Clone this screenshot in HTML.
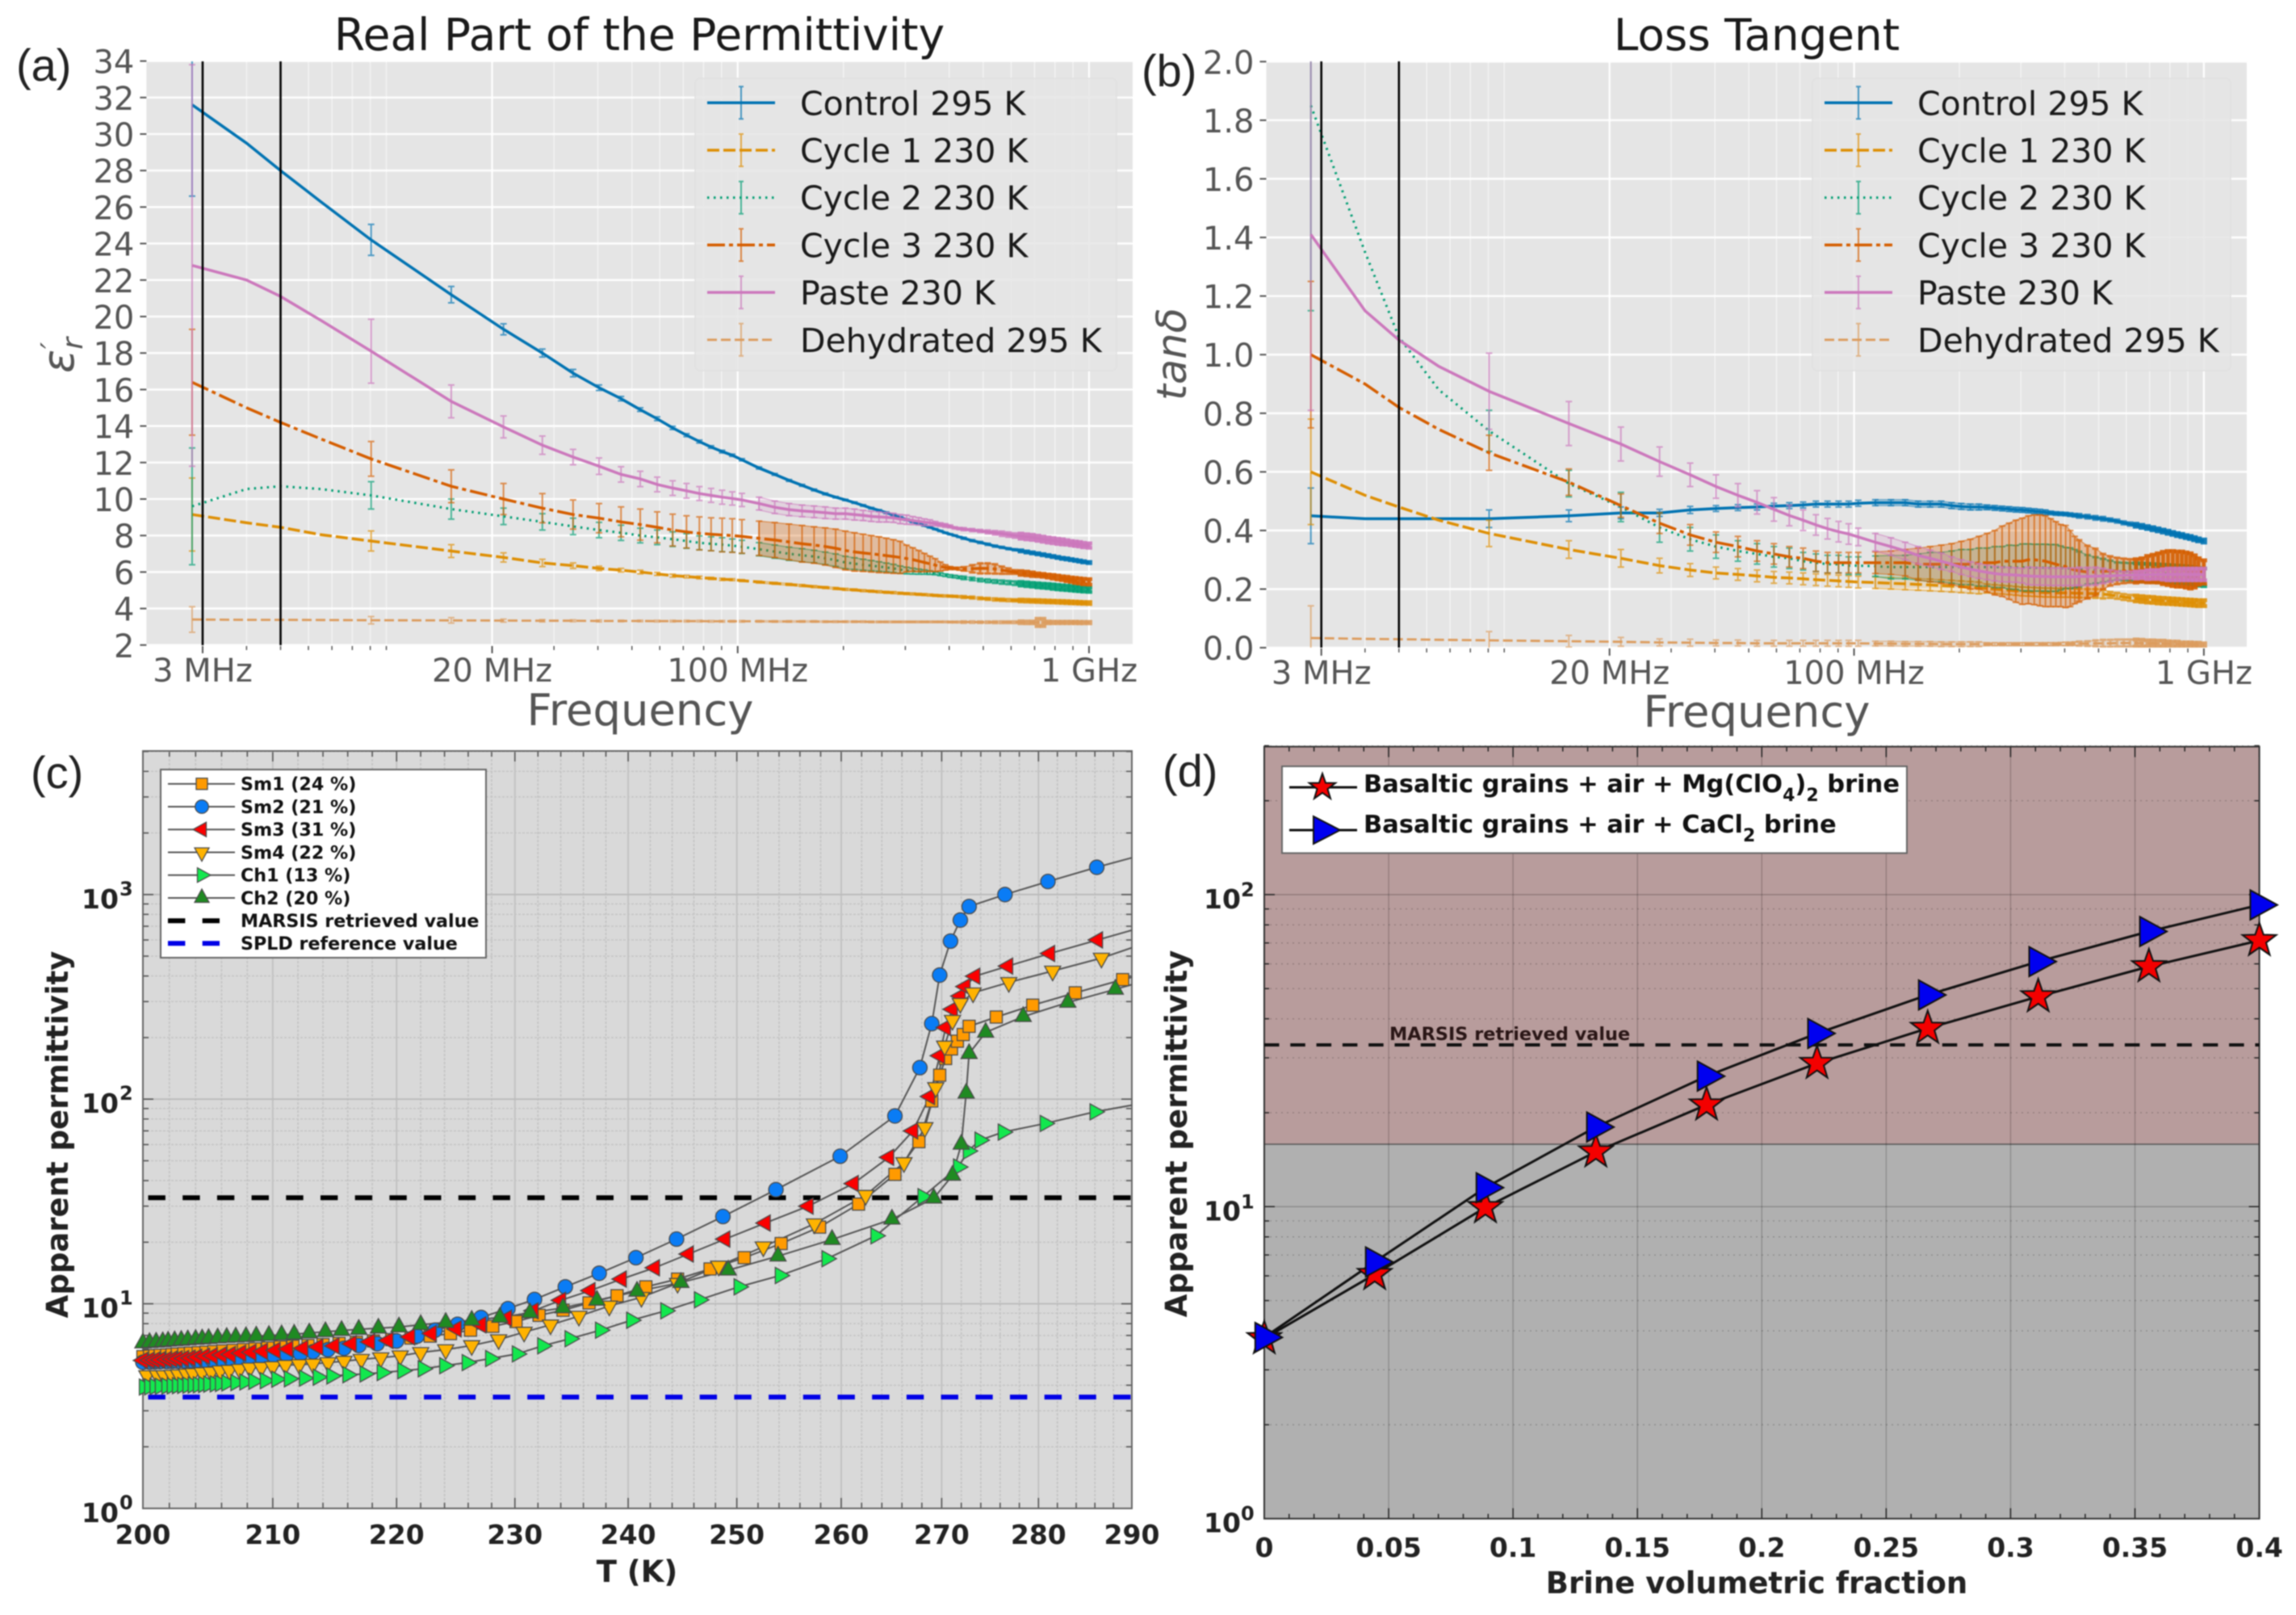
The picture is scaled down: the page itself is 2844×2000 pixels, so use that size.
<!DOCTYPE html>
<html lang="en">
<head>
<meta charset="utf-8">
<title>Permittivity and loss tangent charts</title>
<style>
html,body{margin:0;padding:0;background:#fff;width:2844px;height:2000px;overflow:hidden}
svg{display:block;filter:blur(0.7px);font-family:"DejaVu Sans","Liberation Sans",sans-serif}
.ax{fill:#555}
.b{font-weight:700;fill:#222}
</style>
</head>
<body>
<svg id="figure" xmlns="http://www.w3.org/2000/svg" width="2844" height="2000" viewBox="0 0 2844 2000">
<defs>
<clipPath id="clip-a"><rect x="181.4" y="76" width="1221.6" height="723"/></clipPath>
<clipPath id="clip-b"><rect x="1568.5" y="76" width="1214.5" height="726"/></clipPath>
<clipPath id="clip-c"><rect x="177" y="930" width="1225" height="938"/></clipPath>
</defs>
<g id="static">
<text x="792" y="62" font-size="55" text-anchor="middle" fill="#1a1a1a">Real Part of the Permittivity</text>
<text x="2176" y="62" font-size="54.7" text-anchor="middle" fill="#1a1a1a">Loss Tangent</text>
<text x="20" y="100" font-size="56" fill="#222" style="font-family:'Liberation Sans',sans-serif">(a)</text>
<text x="1414" y="107" font-size="56" fill="#222" style="font-family:'Liberation Sans',sans-serif">(b)</text>
<text x="38" y="976" font-size="56" fill="#222" style="font-family:'Liberation Sans',sans-serif">(c)</text>
<text x="1440" y="974" font-size="56" fill="#222" style="font-family:'Liberation Sans',sans-serif">(d)</text>
<text class="ax" x="793" y="898" font-size="54.4" text-anchor="middle">Frequency</text>
<text class="ax" x="2176" y="900" font-size="54.4" text-anchor="middle">Frequency</text>
<text class="ax" transform="translate(91,462) rotate(-90)" font-size="54" font-style="italic">ε<tspan dy="11" font-size="36">r</tspan><tspan dx="-14" dy="-26" font-size="36">′</tspan></text>
<text class="ax" transform="translate(1469,496) rotate(-90)" font-size="51" font-style="italic">tanδ</text>
<text class="b" x="789" y="1959" font-size="37" text-anchor="middle">T (K)</text>
<text class="b" transform="translate(84,1405) rotate(-90)" font-size="37" text-anchor="middle">Apparent permittivity</text>
<text class="b" x="2176" y="1973" font-size="37" text-anchor="middle">Brine volumetric fraction</text>
<text class="b" transform="translate(1470,1404) rotate(-90)" font-size="37" text-anchor="middle">Apparent permittivity</text>
</g>
</svg>
<script>
// ---------- Shared frequency grid (MHz) for panels a and b ----------
const freqMHz = [2.8,4,5,6.5,9.05,15.3,21.55,27.8,34,40.3,
46.55,52.8,59,65.3,71.5,77.8,84,90.3,96.5,102.8,
115,127.5,140,152.5,165,177.5,190,202.5,215,227.5,
240,252.5,265,277.5,290,302.5,315,327.5,340,352.5,
365,377.5,390,402.5,415,427.5,440,465,490,515,
540,565,590,615,640,665,690,715,740,765,
790,815,840,865,890,915,940,965,1000];

// ---------- Panel a: real permittivity ----------
const aControl = [31.6,29.5,28,26.3,24.2,21.2,19.3,18,16.9,16.1,
15.5,14.9,14.4,13.9,13.5,13.15,12.85,12.6,12.4,12.15,
11.7,11.35,11.02,10.75,10.5,10.28,10.1,9.95,9.8,9.65,
9.5,9.38,9.25,9.12,9,8.87,8.75,8.65,8.55,8.45,
8.35,8.25,8.15,8.07,8,7.92,7.85,7.72,7.62,7.52,
7.42,7.35,7.28,7.22,7.16,7.1,7.05,7,6.95,6.9,
6.85,6.8,6.75,6.72,6.68,6.64,6.6,6.56,6.52];
const aControlErr = [5,0,0,0,.85,.45,.3,.22,.2,.15,
.12,.1,.1,.09,.08,.08,.07,.07,.06,.06,
.06,.05,.05,.05,.05,.05,.04,.04,.04,.04,
.04,.04,.04,.04,.04,.04,.04,.04,.04,.04,
.03,.03,.03,.03,.03,.03,.03,.03,.03,.03,
.03,.03,.03,.03,.03,.03,.03,.03,.03,.03,
.03,.03,.03,.03,.03,.03,.03,.03,.03];
const aCycle1 = [9.15,8.7,8.45,8.05,7.7,7.15,6.8,6.5,6.35,6.2,
6.1,6,5.9,5.8,5.75,5.7,5.65,5.6,5.58,5.53,
5.45,5.38,5.32,5.26,5.2,5.15,5.1,5.05,5.02,4.98,
4.95,4.92,4.89,4.87,4.84,4.82,4.8,4.78,4.76,4.74,
4.72,4.7,4.69,4.68,4.67,4.65,4.63,4.6,4.56,4.53,
4.5,4.48,4.46,4.45,4.44,4.43,4.42,4.41,4.4,4.39,
4.38,4.37,4.36,4.35,4.34,4.33,4.32,4.31,4.3];
const aCycle1Err = [2,0,0,0,.55,.35,.25,.2,.15,.12,
.1,.1,.08,.08,.07,.07,.06,.06,.05,.05,
.05,.05,.05,.05,.05,.05,.05,.05,.05,.05,
.05,.05,.05,.05,.05,.05,.05,.05,.05,.05,
.05,.05,.05,.05,.05,.05,.05,.05,.05,.05,
.06,.06,.06,.06,.05,.05,.05,.05,.05,.05,
.05,.05,.05,.05,.05,.05,.05,.05,.05];
const aCycle2 = [9.6,10.55,10.7,10.55,10.2,9.45,9.05,8.75,8.5,8.3,
8.15,8,7.9,7.8,7.7,7.6,7.55,7.5,7.45,7.38,
7.25,7.12,7,6.92,6.85,6.75,6.65,6.52,6.46,6.4,
6.35,6.3,6.25,6.2,6.13,6.08,6.05,6.02,6,5.97,
5.93,5.88,5.83,5.78,5.75,5.71,5.68,5.62,5.56,5.52,
5.48,5.45,5.42,5.39,5.36,5.33,5.3,5.27,5.25,5.23,
5.2,5.17,5.15,5.13,5.11,5.09,5.07,5.05,5.03];
const aCycle2Err = [3.2,0,0,0,.75,.55,.45,.45,.45,.42,
.42,.4,.4,.4,.4,.38,.38,.38,.36,.36,
.36,.36,.36,.36,.34,.34,.34,.34,.32,.3,
.28,.26,.24,.22,.2,.18,.16,.14,.12,.1,
.08,.08,.07,.07,.07,.07,.07,.07,.07,.08,
.08,.09,.09,.1,.1,.1,.1,.11,.11,.11,
.12,.12,.12,.12,.12,.12,.12,.12,.12];
const aCycle3 = [16.4,15,14.2,13.3,12.2,10.7,10,9.5,9.15,8.95,
8.75,8.6,8.45,8.3,8.2,8.12,8.07,8.03,8,7.95,
7.85,7.75,7.65,7.55,7.48,7.4,7.3,7.18,7.1,7.05,
7,6.95,6.9,6.85,6.8,6.74,6.68,6.6,6.52,6.45,
6.38,6.3,6.25,6.22,6.2,6.18,6.17,6.18,6.2,6.2,
6.17,6.1,6.05,6,5.95,5.92,5.88,5.85,5.82,5.78,
5.74,5.7,5.66,5.62,5.58,5.54,5.51,5.48,5.46];
const aCycle3Err = [2.9,0,0,0,.95,.9,.85,.8,.8,.8,
.82,.85,.85,.87,.88,.9,.9,.92,.92,.92,
.94,.96,.98,1,1,1.02,1.05,1.06,1.05,1.02,
1,.98,.95,.92,.88,.73,.65,.58,.5,.42,
.35,.25,.15,.08,.06,.08,.1,.2,.28,.28,
.26,.2,.15,.1,.1,.1,.1,.08,.08,.08,
.1,.1,.1,.12,.12,.14,.14,.15,.15];
const aPaste = [22.8,22,21.1,19.8,18.1,15.35,13.95,12.95,12.3,11.8,
11.35,11.1,10.8,10.6,10.45,10.3,10.2,10.1,10.03,9.95,
9.75,9.55,9.42,9.35,9.3,9.25,9.2,9.2,9.15,9.1,
9.05,9.02,9,8.97,8.9,8.87,8.82,8.78,8.73,8.7,
8.65,8.6,8.55,8.5,8.42,8.38,8.35,8.3,8.25,8.2,
8.15,8.1,8.05,8,7.97,7.93,7.9,7.85,7.8,7.75,
7.72,7.68,7.65,7.62,7.58,7.55,7.52,7.48,7.45];
const aPasteErr = [11,0,0,0,1.75,.9,.6,.5,.42,.45,
.42,.42,.4,.4,.4,.38,.38,.38,.36,.36,
.35,.34,.33,.32,.32,.32,.3,.3,.3,.28,
.28,.28,.26,.25,.25,.25,.22,.2,.18,.16,
.12,.1,.1,.08,.06,.06,.06,.06,.06,.08,
.1,.12,.12,.12,.14,.14,.14,.14,.14,.14,
.14,.14,.14,.12,.12,.12,.12,.12,.12];
const aDehydrated = [3.4,3.38,3.38,3.37,3.36,3.35,3.34,3.33,3.33,3.32,
3.32,3.32,3.31,3.31,3.31,3.31,3.3,3.3,3.3,3.3,
3.3,3.29,3.29,3.29,3.29,3.28,3.28,3.28,3.28,3.28,
3.27,3.27,3.27,3.27,3.27,3.27,3.27,3.27,3.27,3.27,
3.27,3.27,3.27,3.26,3.26,3.26,3.26,3.26,3.25,3.25,
3.25,3.25,3.25,3.25,3.25,3.24,3.24,3.24,3.24,3.24,
3.24,3.24,3.24,3.24,3.24,3.24,3.23,3.23,3.23];
const aDehydratedErr = [.7,0,0,0,.2,.15,.08,.06,.05,.05,
.04,.04,.04,.04,.04,.04,.04,.04,.04,.04,
.04,.04,.04,.04,.04,.04,.04,.04,.04,.04,
.04,.04,.04,.04,.04,.04,.04,.04,.04,.04,
.04,.04,.04,.04,.04,.04,.04,.04,.04,.04,
.05,.05,.05,.05,.05,.05,.05,.2,.2,.05,
.04,.04,.04,.04,.04,.04,.04,.04,.04];
const aYTicks = [2,4,6,8,10,12,14,16,18,20,22,24,26,28,30,32,34];

// ---------- Panel b: loss tangent ----------
const bControl = [.45,.44,.44,.44,.44,.45,.46,.46,.47,.475,
.478,.48,.483,.485,.487,.49,.49,.49,.49,.493,
.495,.495,.495,.49,.49,.49,.485,.482,.48,.48,
.479,.477,.475,.473,.471,.47,.468,.466,.464,.462,
.46,.458,.457,.456,.454,.452,.45,.447,.443,.44,
.436,.432,.426,.422,.418,.414,.41,.406,.402,.398,
.394,.39,.386,.383,.379,.376,.372,.368,.364];
const bControlErr = [.095,0,0,0,.03,.02,.02,.012,.012,.01,
.01,.01,.01,.01,.01,.01,.01,.01,.01,.01,
.01,.01,.01,.01,.01,.01,.01,.01,.01,.01,
.008,.008,.008,.008,.008,.008,.008,.008,.008,.008,
.006,.006,.006,.006,.006,.006,.006,.006,.006,.006,
.005,.005,.005,.005,.005,.005,.005,.005,.005,.005,
.005,.005,.005,.005,.005,.005,.005,.005,.005];
const bCycle1 = [.6,.52,.48,.435,.39,.335,.305,.28,.265,.255,
.25,.245,.24,.238,.235,.232,.23,.228,.226,.224,
.222,.22,.218,.216,.214,.212,.21,.208,.206,.204,
.202,.2,.198,.196,.194,.192,.191,.19,.189,.188,
.188,.187,.187,.187,.187,.186,.186,.185,.185,.183,
.18,.177,.173,.17,.168,.166,.164,.163,.161,.16,
.159,.158,.157,.156,.155,.154,.153,.152,.152];
const bCycle1Err = [.18,0,0,0,.045,.03,.03,.025,.022,.02,
.02,.02,.02,.02,.02,.02,.02,.02,.02,.02,
.02,.02,.02,.02,.02,.02,.02,.02,.02,.02,
.015,.015,.015,.015,.015,.015,.015,.015,.015,.015,
.015,.015,.015,.015,.015,.015,.015,.015,.015,.015,
.01,.01,.01,.01,.01,.01,.01,.01,.01,.01,
.01,.01,.01,.01,.01,.01,.01,.01,.01];
const bCycle2 = [1.85,1.35,1.06,.88,.74,.56,.48,.41,.37,.345,
.33,.32,.31,.305,.295,.29,.285,.285,.28,.28,
.278,.275,.275,.275,.275,.275,.275,.275,.275,.275,
.275,.275,.275,.275,.274,.274,.274,.273,.273,.273,
.272,.272,.272,.272,.271,.27,.268,.266,.264,.263,
.262,.261,.26,.259,.258,.257,.256,.255,.254,.253,
.252,.251,.25,.249,.248,.246,.244,.242,.24];
const bCycle2Err = [.7,0,0,0,.07,.045,.05,.05,.04,.04,
.035,.035,.035,.035,.03,.03,.03,.03,.03,.03,
.035,.04,.04,.045,.05,.05,.055,.06,.06,.065,
.065,.07,.07,.075,.075,.08,.08,.08,.08,.08,
.08,.08,.075,.07,.07,.065,.06,.05,.045,.04,
.035,.03,.03,.03,.03,.03,.03,.03,.03,.03,
.03,.03,.03,.03,.03,.03,.03,.03,.03];
const bCycle3 = [1,.9,.82,.745,.665,.565,.485,.425,.385,.36,
.345,.33,.32,.31,.305,.295,.29,.29,.29,.29,
.29,.29,.29,.285,.285,.285,.285,.285,.285,.29,
.29,.29,.295,.295,.295,.295,.3,.3,.298,.295,
.29,.285,.28,.277,.27,.265,.262,.258,.258,.26,
.262,.262,.262,.262,.262,.265,.268,.27,.272,.272,
.272,.27,.268,.268,.265,.262,.26,.26,.258];
const bCycle3Err = [.25,0,0,0,.06,.045,.04,.035,.035,.035,
.035,.035,.035,.035,.035,.035,.035,.035,.035,.035,
.037,.04,.045,.055,.06,.065,.07,.078,.085,.09,
.1,.11,.12,.13,.14,.147,.15,.153,.155,.155,
.15,.145,.14,.14,.13,.115,.105,.09,.08,.06,
.05,.045,.042,.04,.04,.04,.045,.047,.05,.055,
.058,.06,.06,.06,.06,.06,.055,.045,.04];
const bPaste = [1.41,1.15,1.05,.96,.875,.765,.695,.635,.59,.55,
.52,.496,.472,.451,.435,.419,.406,.396,.388,.378,
.36,.345,.33,.315,.305,.295,.285,.275,.268,.262,
.257,.253,.25,.249,.248,.246,.245,.244,.243,.243,
.242,.242,.242,.242,.242,.242,.243,.243,.244,.245,
.245,.246,.247,.248,.248,.249,.249,.25,.25,.25,
.25,.25,.25,.25,.25,.25,.25,.25,.25];
const bPasteErr = [.6,0,0,0,.13,.075,.058,.05,.04,.04,
.04,.04,.04,.035,.035,.035,.035,.035,.035,.03,
.03,.03,.03,.03,.028,.028,.025,.025,.025,.025,
.025,.025,.025,.025,.025,.025,.03,.03,.03,.03,
.03,.03,.03,.03,.03,.03,.03,.03,.03,.025,
.02,.015,.012,.012,.012,.012,.015,.015,.015,.018,
.02,.02,.02,.02,.02,.02,.02,.02,.02];
const bDehydrated = [.033,.03,.029,.027,.025,.022,.02,.018,.017,.016,
.016,.015,.015,.015,.015,.015,.015,.015,.015,.015,
.014,.014,.013,.013,.013,.012,.012,.012,.012,.012,
.012,.012,.012,.012,.012,.012,.012,.012,.012,.012,
.012,.012,.013,.013,.013,.014,.014,.014,.015,.015,
.015,.016,.016,.016,.016,.015,.015,.015,.014,.014,
.014,.013,.013,.012,.012,.012,.011,.011,.01];
const bDehydratedErr = [.11,0,0,0,.03,.02,.015,.012,.012,.01,
.01,.01,.01,.01,.01,.01,.01,.01,.01,.01,
.008,.008,.008,.008,.008,.008,.008,.008,.008,.008,
.005,.005,.005,.005,.005,.005,.005,.005,.005,.005,
.005,.005,.005,.006,.006,.006,.007,.008,.01,.012,
.012,.012,.012,.012,.012,.012,.01,.01,.01,.01,
.008,.008,.008,.006,.006,.006,.006,.006,.005];
const bYTicks = [0,.2,.4,.6,.8,1,1.2,1.4,1.6,1.8,2];

const freqTickValues = [3,20,100,1000];
const freqTickLabels = ['3 MHz','20 MHz','100 MHz','1 GHz'];
const freqMinorValues = [4,5,6,7,8,9,10,30,40,50,60,70,80,90,200,300,400,500,600,700,800,900];
const bandLimitMHz = [3,5];
const seriesLabels = ['Control 295 K','Cycle 1 230 K','Cycle 2 230 K','Cycle 3 230 K','Paste 230 K','Dehydrated 295 K'];

// ---------- Panel c: apparent permittivity vs temperature ----------
const sm1T = [200,200.5,200.9,201.3,201.8,202.2,202.6,203.1,203.6,204.2,204.8,205.4,206.1,206.9,207.7,208.6,209.6,210.6,211.6,212.8,214,215.3,216.7,218.1,219.6,221.2,222.8,224.5,226.2,228.1,230.1,232.1,234.2,236.5,239,241.6,244.5,247.5,250.7,254.2,257.9,261.7,265.3,267.7,269,269.8,270.4,271,271.6,272.2,272.8,275.6,279.4,283.9,289,292];
const sm1V = [5.52,5.55,5.58,5.6,5.62,5.65,5.68,5.71,5.74,5.77,5.8,5.84,5.88,5.92,5.97,6.02,6.08,6.15,6.2,6.25,6.32,6.4,6.48,6.58,6.68,6.8,6.95,7.15,7.43,7.76,8.19,8.78,9.3,10.1,10.95,12.1,13.2,14.8,16.8,19.7,23.7,30.7,42.9,62,98,131,158,176,192,207,227,252,288,331,384,415];
const sm2T = [200,200.5,200.9,201.3,201.8,202.2,202.6,203.1,203.6,204.1,204.7,205.3,206,206.7,207.4,208.2,209.1,210.1,211.1,212.2,213.2,214.4,215.7,216.9,218.4,220,221.7,223.2,225.1,227.1,229.4,231.7,234.4,237.4,240.7,244.4,248.7,253.7,259.9,265.3,267.8,269,269.8,270.9,271.9,272.8,276.5,281,286.2,292];
const sm2V = [5.18,5.19,5.2,5.21,5.22,5.23,5.24,5.26,5.27,5.29,5.31,5.33,5.35,5.38,5.41,5.44,5.48,5.57,5.65,5.7,5.83,5.97,6.06,6.25,6.38,6.58,6.95,7.43,7.94,8.57,9.47,10.5,12.1,14.1,16.8,20.7,26.7,36.1,52.6,82.8,142.6,234,404,592,750,874,1000,1158,1359,1600];
const sm3T = [200,200.5,200.9,201.3,201.8,202.2,202.6,203.1,203.6,204.1,204.7,205.3,206,206.7,207.5,208.3,209.2,210.2,211.2,212.4,213.6,214.9,216.3,217.8,219.3,221.1,222.9,225,227.1,229.3,231.6,234,236.6,239.4,242.4,245.5,248.9,252.7,256.8,261.2,264.7,267.1,268.8,269.8,270.4,271.1,271.9,272.4,273.4,276.8,281.2,286.3,292];
const sm3V = [5.29,5.3,5.31,5.32,5.34,5.36,5.38,5.4,5.43,5.48,5.54,5.57,5.62,5.65,5.74,5.79,5.86,5.92,6.01,6.06,6.15,6.23,6.38,6.52,6.62,6.89,7.16,7.54,7.89,8.51,9.24,10.4,11.6,13.2,15,17.5,20.7,24.8,30,38.7,52,70,103,163,224,275,319,355,399,447,515,600,710];
const sm4T = [200.3,201.1,201.6,202.2,202.7,203.3,203.8,204.5,205.2,205.9,206.6,207.4,208.2,209.1,210,211,212.1,213.2,214.4,215.7,217.1,218.7,220.3,222,224.1,226.3,228.6,230.8,233.1,235.6,238.3,241.2,244.5,248.3,252.5,257.4,262.4,266.2,268.3,269.4,270.3,271.1,271.9,273.2,276.9,281.5,286.7,292];
const sm4V = [4.46,4.46,4.46,4.48,4.5,4.54,4.57,4.61,4.64,4.71,4.74,4.79,4.86,4.89,4.93,5.01,5.05,5.08,5.16,5.24,5.35,5.45,5.57,5.78,5.97,6.25,6.68,7.27,7.89,8.7,9.76,10.75,12.6,15.3,19,24.6,33.9,49,72.7,114,182,243,294,331,372,423,489,590];
const ch1T = [200.1,200.5,200.9,201.3,201.8,202.2,202.6,203,203.4,203.8,204.2,204.6,205,205.5,205.9,206.4,207.1,207.8,208.5,209.4,210.3,211.3,212.5,213.6,214.7,216,217.4,218.8,220.5,222.2,224,225.9,227.9,230.2,232.4,234.8,237.5,240.3,243.4,246.5,250.2,254.1,258.6,263.4,268.1,271.7,272.7,273.9,276.3,280.7,286,292];
const ch1V = [3.92,3.93,3.94,3.95,3.96,3.97,3.98,3.99,4,4.01,4.02,4.03,4.05,4.06,4.08,4.1,4.12,4.15,4.18,4.21,4.28,4.3,4.33,4.38,4.44,4.5,4.54,4.61,4.71,4.81,4.98,5.16,5.4,5.69,6.23,6.75,7.43,8.31,9.24,10.46,12.1,13.75,16.6,21.5,33.4,46.6,55.8,63,69,76.1,86.7,97];
const ch2T = [200,200.5,201,201.5,201.9,202.4,202.9,203.4,204,204.5,205,205.7,206.4,207.1,207.9,208.7,209.7,210.7,211.7,212.9,214.2,215.5,216.9,218.5,220.2,222,224.1,226.3,228.7,231.3,234.2,237.2,240.8,244.8,249.2,253.9,259.1,265,269.2,271.1,272,272.5,272.8,274.5,278.4,283.1,288.2,292];
const ch2V = [6.43,6.46,6.49,6.52,6.56,6.59,6.62,6.66,6.7,6.73,6.76,6.8,6.84,6.87,6.91,6.95,7,7.05,7.1,7.2,7.3,7.4,7.5,7.6,7.7,7.9,8.1,8.3,8.58,9.03,9.55,10.4,11.5,12.7,14.6,17.1,20.6,25.9,32.8,42.4,60.2,107,167,212,253,297,344,385];
const cXTicks = [200,210,220,230,240,250,260,270,280,290];
const cYDecades = [0,1,2,3];
const marsisValue = [33];
const spldValue = [3.5];

// ---------- Panel d: mixing model ----------
const dFraction = [0,.0444,.0889,.1333,.1778,.2222,.2667,.3111,.3556,.4];
const dMgClO4 = [3.78,6.07,9.94,15,21.2,28.8,37.3,47.1,58.8,71.3];
const dCaCl2 = [3.81,6.65,11.5,18,26.2,35.9,47.7,61,76.2,92.7];
const dXTicks = [0,.05,.1,.15,.2,.25,.3,.35,.4];
const dXTickLabels = ['0','0.05','0.1','0.15','0.2','0.25','0.3','0.35','0.4'];
const dYDecades = [0,1,2];
const dShadeBoundary = [15.85];

// ---------- Axis functions ----------
const xA = f => 251 + 435.2 * Math.log10(f / 3);
const yA = v => 798.8 - (v - 2) * 22.6;
const xB = f => 1636.7 + 433.3 * Math.log10(f / 3);
const yB = v => 802.1 - v * 362.9;
const xC = t => 177 + 1225 * Math.log(t / 200) / Math.log(1.45);
const yC = v => 1868 - 253.4 * Math.log10(v);
const xD = v => 1566 + v / 0.4 * 1232.6;
const yD = v => 1880.7 - 386.4 * Math.log10(v);

const NS = 'http://www.w3.org/2000/svg';
const figure = document.getElementById('figure');
function mk(tag, parent, attrs, txt) {
  const n = document.createElementNS(NS, tag);
  for (const k in attrs) n.setAttribute(k, attrs[k]);
  if (txt !== undefined) n.textContent = txt;
  parent.appendChild(n);
  return n;
}
function grp(parent) { return mk('g', parent, {}); }
function polyD(xs, ys) {
  const parts = [];
  for (let i = 0; i < Math.min(xs.length, ys.length); i++) parts.push((i ? 'L' : 'M') + xs[i].toFixed(1) + ' ' + ys[i].toFixed(1));
  return parts.join('');
}
function marker(parent, type, cx, cy, fill, stroke, sw, h, b) {
  let pts;
  if (type === 'circle') return mk('ellipse', parent, {cx: cx, cy: cy, rx: h / 2, ry: h / 2, fill: fill, stroke: stroke, 'stroke-width': sw});
  if (type === 'square') return mk('rect', parent, {x: cx - h / 2, y: cy - h / 2, width: h, height: h, fill: fill, stroke: stroke, 'stroke-width': sw});
  if (type === 'star') {
    pts = [];
    for (let i = 0; i < 10; i++) {
      const r = i % 2 ? h * 0.4 : h;
      const a = -Math.PI / 2 + i * Math.PI / 5;
      pts.push((cx + r * Math.cos(a)).toFixed(1) + ',' + (cy + r * Math.sin(a)).toFixed(1));
    }
    return mk('polygon', parent, {points: pts.join(' '), fill: fill, stroke: stroke, 'stroke-width': sw, 'stroke-linejoin': 'miter'});
  }
  if (type === 'right') pts = [[cx - h / 3, cy - b / 2], [cx + 2 * h / 3, cy], [cx - h / 3, cy + b / 2]];
  if (type === 'left') pts = [[cx + h / 3, cy - b / 2], [cx - 2 * h / 3, cy], [cx + h / 3, cy + b / 2]];
  if (type === 'up') pts = [[cx - b / 2, cy + h / 3], [cx, cy - 2 * h / 3], [cx + b / 2, cy + h / 3]];
  if (type === 'down') pts = [[cx - b / 2, cy - h / 3], [cx, cy + 2 * h / 3], [cx + b / 2, cy - h / 3]];
  return mk('polygon', parent, {points: pts.map(p => p[0].toFixed(1) + ',' + p[1].toFixed(1)).join(' '), fill: fill, stroke: stroke, 'stroke-width': sw});
}

// ---------- Panels a and b ----------
const lineStyles = [
  {color: '#0173b2', dash: 'none', w: 3.5, key: 'control'},
  {color: '#de8f05', dash: '15 5', w: 3.5, key: 'cycle-1'},
  {color: '#029e73', dash: '2.5 5.5', w: 3, key: 'cycle-2'},
  {color: '#d55e00', dash: '22 5 5 5', w: 3.5, key: 'cycle-3'},
  {color: '#cc78bc', dash: 'none', w: 3.5, key: 'paste'},
  {color: '#dc9c5e', dash: '12 5', w: 2.8, key: 'dehydrated'}
];
function drawFreqPanel(p) {
  const g = grp(figure);
  
  
  const bg = mk('rect', g, {x: p.L, y: p.T, width: p.R - p.L, height: p.B - p.T, fill: '#e5e5e5'});
  
  
  p.yTicks.forEach(v => {
    const gl = mk('line', g, {x1: p.L, x2: p.R, y1: p.y(v), y2: p.y(v), stroke: '#fff', 'stroke-width': 2.6, 'stroke-opacity': 0.9});
    
    
    const tk = mk('line', g, {x1: p.L - 8, x2: p.L, y1: p.y(v), y2: p.y(v), stroke: '#555', 'stroke-width': 2});
    
    
    const lab = mk('text', g, {x: p.L - 15, y: p.y(v) + 15, 'font-size': 40, 'text-anchor': 'end', fill: '#555'}, p.fmt(v));
    
    
  });
  freqMinorValues.forEach(f => {
    const gl = mk('line', g, {x1: p.x(f), x2: p.x(f), y1: p.T, y2: p.B, stroke: '#fff', 'stroke-width': 1.3, 'stroke-opacity': 0.6});
    
    
    const tk = mk('line', g, {x1: p.x(f), x2: p.x(f), y1: p.B + 1, y2: p.B + 6, stroke: '#555', 'stroke-width': 1.5});
    
    
  });
  freqTickValues.forEach((f, i) => {
    const gl = mk('line', g, {x1: p.x(f), x2: p.x(f), y1: p.T, y2: p.B, stroke: '#fff', 'stroke-width': 2.2});
    
    
    const tk = mk('line', g, {x1: p.x(f), x2: p.x(f), y1: p.B + 1, y2: p.B + 10, stroke: '#555', 'stroke-width': 2});
    
    
    const lab = mk('text', g, {x: p.x(f), y: p.B + 45, 'font-size': 40, 'text-anchor': 'middle', fill: '#555'}, freqTickLabels[i]);
    
    
  });
  const plot = mk('g', g, {'clip-path': 'url(#' + p.clip + ')'});
  
  
  p.series.forEach((s, si) => {
    const st = lineStyles[si];
    // Dense error bars merge visually: shade the span between their limits from the same arrays.
    const start = 20;
    const up = [], down = [];
    for (let i = start; i < freqMHz.length; i++) {
      up.push(p.x(freqMHz[i]).toFixed(1) + ' ' + p.y(s.val[i] + s.err[i]).toFixed(1));
      down.unshift(p.x(freqMHz[i]).toFixed(1) + ' ' + p.y(s.val[i] - s.err[i]).toFixed(1));
    }
    const band = mk('path', plot, {d: 'M' + up.join('L') + 'L' + down.join('L') + 'Z', fill: st.color, 'fill-opacity': si === 3 ? 0.3 : 0.16, stroke: st.color, 'stroke-opacity': 0.55, 'stroke-width': 1.4});
    
    
    s.err.forEach((e, i) => {
      if (!e) return;
      const f = freqMHz[i], x = p.x(f), y1 = p.y(s.val[i] + e), y2 = p.y(s.val[i] - e);
      const cap = 4;
      const bar = mk('path', plot, {d: 'M' + x + ' ' + y1 + 'V' + y2 + 'M' + (x - cap) + ' ' + y1 + 'H' + (x + cap) + 'M' + (x - cap) + ' ' + y2 + 'H' + (x + cap), fill: 'none', stroke: st.color, 'stroke-width': f >= 640 ? 4.8 : (f >= 440 ? 3.2 : 2), 'stroke-opacity': f >= 640 ? 0.9 : 0.68});
      
      
    });
    const ln = mk('path', plot, {d: polyD(freqMHz.map(p.x), s.val.map(p.y)), fill: 'none', stroke: st.color, 'stroke-width': st.w, 'stroke-dasharray': st.dash});
    
    
  });
  bandLimitMHz.forEach(f => {
    const vl = mk('line', plot, {x1: p.x(f), x2: p.x(f), y1: p.T, y2: p.B, stroke: '#000', 'stroke-width': 2.6});
    
    
  });
  const lg = grp(g);
  
  
  const box = mk('rect', lg, {x: p.lgX, y: 97, width: p.lgW, height: 362, rx: 6, fill: '#e5e5e5', 'fill-opacity': 0.85, stroke: '#e0e0e0', 'stroke-width': 1.5});
  
  
  seriesLabels.forEach((label, i) => {
    const st = lineStyles[i];
    const ry = 127.3 + i * 58.7;
    const hx = p.lgX + 15;
    const hl = mk('line', lg, {x1: hx, x2: hx + 84, y1: ry, y2: ry, stroke: st.color, 'stroke-width': st.w, 'stroke-dasharray': st.dash});
    
    
    const hb = mk('path', lg, {d: 'M' + (hx + 42) + ' ' + (ry - 20) + 'V' + (ry + 20) + 'M' + (hx + 39) + ' ' + (ry - 20) + 'H' + (hx + 45) + 'M' + (hx + 39) + ' ' + (ry + 20) + 'H' + (hx + 45), fill: 'none', stroke: st.color, 'stroke-width': 2, 'stroke-opacity': 0.7});
    
    
    const tx = mk('text', lg, {x: p.lgX + 130, y: ry + 15, 'font-size': 41, fill: '#1a1a1a'}, label);
    
    
  });
}
drawFreqPanel({id: 'panel-a', clip: 'clip-a', L: 181.4, R: 1403, T: 76, B: 799, x: xA, y: yA, yTicks: aYTicks, fmt: v => String(v), lgX: 861, lgW: 522,
  series: [{val: aControl, err: aControlErr}, {val: aCycle1, err: aCycle1Err}, {val: aCycle2, err: aCycle2Err}, {val: aCycle3, err: aCycle3Err}, {val: aPaste, err: aPasteErr}, {val: aDehydrated, err: aDehydratedErr}]});
drawFreqPanel({id: 'panel-b', clip: 'clip-b', L: 1568.5, R: 2783, T: 76, B: 802, x: xB, y: yB, yTicks: bYTicks, fmt: v => v.toFixed(1), lgX: 2245, lgW: 518,
  series: [{val: bControl, err: bControlErr}, {val: bCycle1, err: bCycle1Err}, {val: bCycle2, err: bCycle2Err}, {val: bCycle3, err: bCycle3Err}, {val: bPaste, err: bPasteErr}, {val: bDehydrated, err: bDehydratedErr}]});

// ---------- Panel c ----------
(function () {
  const L = 177, R = 1402, T = 930, B = 1868;
  const g = grp(figure);
  
  
  const bg = mk('rect', g, {x: L, y: T, width: R - L, height: B - T, fill: '#d9d9d9'});
  
  
  for (let t = 200; t <= 290; t += 2) {
    const major = t % 10 === 0;
    const gl = mk('line', g, {x1: xC(t), x2: xC(t), y1: T, y2: B, stroke: '#c0c0c0', 'stroke-width': major ? 1.8 : 1.5, 'stroke-dasharray': major ? 'none' : '3 2'});
    
    
    const len = major ? 13 : 7;
    const tk = mk('path', g, {d: 'M' + xC(t) + ' ' + B + 'v' + (-len) + 'M' + xC(t) + ' ' + T + 'v' + len, stroke: '#555', 'stroke-width': 1.6, fill: 'none'});
    
    
  }
  for (let d = 0; d <= 3; d++) {
    for (let m = 1; m <= 9; m++) {
      const v = m * Math.pow(10, d);
      if (v > 5000) continue;
      const gl = mk('line', g, {x1: L, x2: R, y1: yC(v), y2: yC(v), stroke: m === 1 ? '#bababa' : '#c4c4c4', 'stroke-width': m === 1 ? 1.8 : 1.5, 'stroke-dasharray': m === 1 ? 'none' : '3 2'});
      
      
      const len = m === 1 ? 13 : 7;
      const tk = mk('path', g, {d: 'M' + L + ' ' + yC(v) + 'h' + len + 'M' + R + ' ' + yC(v) + 'h' + (-len), stroke: '#555', 'stroke-width': 1.6, fill: 'none'});
      
      
    }
  }
  const bd = mk('rect', g, {x: L, y: T, width: R - L, height: B - T, fill: 'none', stroke: '#666', 'stroke-width': 2});
  
  
  cXTicks.forEach(t => {
    const lab = mk('text', g, {x: xC(t), y: 1912, 'font-size': 33, 'font-weight': 700, 'text-anchor': 'middle', fill: '#222'}, String(t));
    
    
  });
  cYDecades.forEach(d => {
    const y = yC(Math.pow(10, d));
    const lab = mk('text', g, {x: 101, y: y + 17, 'font-size': 33, 'font-weight': 700, fill: '#222'}, '10');
    
    
    const sup = mk('text', g, {x: 148, y: y + 1, 'font-size': 24, 'font-weight': 700, fill: '#222'}, String(d));
    
    
  });
  const clipG = mk('g', g, {'clip-path': 'url(#clip-c)'});
  
  
  const seriesC = [
    {name: 'sm1', label: 'Sm1 (24 %)', t: sm1T, v: sm1V, mark: 'square', fill: '#ff9a00', h: 15, lh: 14},
    {name: 'sm2', label: 'Sm2 (21 %)', t: sm2T, v: sm2V, mark: 'circle', fill: '#0a7cf5', h: 18, lh: 16.5},
    {name: 'sm3', label: 'Sm3 (31 %)', t: sm3T, v: sm3V, mark: 'left', fill: '#fb0000', h: 18, lh: 16.5},
    {name: 'sm4', label: 'Sm4 (22 %)', t: sm4T, v: sm4V, mark: 'down', fill: '#ffb300', h: 18, lh: 16.5},
    {name: 'ch1', label: 'Ch1 (13 %)', t: ch1T, v: ch1V, mark: 'right', fill: '#12e84e', h: 18, lh: 16.5},
    {name: 'ch2', label: 'Ch2 (20 %)', t: ch2T, v: ch2V, mark: 'up', fill: '#1f8a22', h: 18, lh: 16.5}
  ];
  const mLine = mk('line', clipG, {x1: 183.5, x2: R, y1: yC(marsisValue[0]), y2: yC(marsisValue[0]), stroke: '#000', 'stroke-width': 6, 'stroke-dasharray': '21.4 21.3'});
  
  
  const sLine = mk('line', clipG, {x1: 183.5, x2: R, y1: yC(spldValue[0]), y2: yC(spldValue[0]), stroke: '#0000e6', 'stroke-width': 6, 'stroke-dasharray': '21.4 21.3'});
  
  
  seriesC.forEach(s => {
    const ln = mk('path', clipG, {d: polyD(s.t.map(xC), s.v.map(yC)), fill: 'none', stroke: '#555', 'stroke-width': 2});
    
    
  });
  seriesC.forEach(s => {
    s.t.forEach((t, i) => {
      if (t > 290) return;
      const m = marker(g, s.mark, xC(t), yC(s.v[i]), s.fill, '#4a4a4a', 1.3, s.h, 20);
      
      
    });
  });
  const lg = grp(g);
  
  
  const box = mk('rect', lg, {x: 199, y: 953, width: 403, height: 233, fill: '#fff', stroke: '#666', 'stroke-width': 2});
  
  
  seriesC.forEach((s, i) => {
    const ry = 970.7 + i * 28.25;
    const hl = mk('line', lg, {x1: 208, x2: 291, y1: ry, y2: ry, stroke: '#555', 'stroke-width': 2});
    
    
    const m = marker(lg, s.mark, 250, ry, s.fill, '#4a4a4a', 1.3, s.lh, 18);
    
    
    const tx = mk('text', lg, {x: 298, y: ry + 8, 'font-size': 22.2, 'font-weight': 700, fill: '#111'}, s.label);
    
    
  });
  const h1 = mk('line', lg, {x1: 208, x2: 272, y1: 1140.3, y2: 1140.3, stroke: '#000', 'stroke-width': 6, 'stroke-dasharray': '21.4 21.3'});
  
  
  const t1 = mk('text', lg, {x: 298, y: 1148, 'font-size': 22.2, 'font-weight': 700, fill: '#111'}, 'MARSIS retrieved value');
  
  
  const h2 = mk('line', lg, {x1: 208, x2: 272, y1: 1168.3, y2: 1168.3, stroke: '#0000e6', 'stroke-width': 6, 'stroke-dasharray': '21.4 21.3'});
  
  
  const t2 = mk('text', lg, {x: 298, y: 1176, 'font-size': 22.2, 'font-weight': 700, fill: '#111'}, 'SPLD reference value');
  
  
})();

// ---------- Panel d ----------
(function () {
  const L = 1566, R = 2798.6, T = 924.6, B = 1880.7;
  const g = grp(figure);
  
  
  const yS = yD(dShadeBoundary[0]);
  const top = mk('rect', g, {x: L, y: T, width: R - L, height: yS - T, fill: '#b89c9c'});
  
  
  const bot = mk('rect', g, {x: L, y: yS, width: R - L, height: B - yS, fill: '#b0b0b0'});
  
  
  const sb = mk('line', g, {x1: L, x2: R, y1: yS, y2: yS, stroke: '#555', 'stroke-width': 1.5});
  
  
  for (let i = 0; i <= 40; i++) {
    const v = i / 100;
    const major = i % 5 === 0;
    const x = xD(v);
    if (major) {
      const gl = mk('line', g, {x1: x, x2: x, y1: T, y2: B, stroke: '#000', 'stroke-opacity': 0.2, 'stroke-width': 1.4});
      
      
    }
    const len = major ? 13 : 6;
    const tk = mk('path', g, {d: 'M' + x + ' ' + B + 'v' + (-len) + 'M' + x + ' ' + T + 'v' + len, stroke: '#222', 'stroke-width': 1.5, fill: 'none'});
    
    
  }
  for (let d = 0; d <= 2; d++) {
    for (let m = 1; m <= 9; m++) {
      const v = m * Math.pow(10, d);
      if (v > 300) continue;
      const y = yD(v);
      const gl = mk('line', g, {x1: L, x2: R, y1: y, y2: y, stroke: '#000', 'stroke-opacity': m === 1 ? 0.22 : 0.2, 'stroke-width': 1.4, 'stroke-dasharray': m === 1 ? 'none' : '2 5'});
      
      
      const len = m === 1 ? 13 : 6;
      const tk = mk('path', g, {d: 'M' + L + ' ' + y + 'h' + len + 'M' + R + ' ' + y + 'h' + (-len), stroke: '#222', 'stroke-width': 1.5, fill: 'none'});
      
      
    }
  }
  const bd = mk('rect', g, {x: L, y: T, width: R - L, height: B - T, fill: 'none', stroke: '#333', 'stroke-width': 2});
  
  
  dXTicks.forEach((v, i) => {
    const lab = mk('text', g, {x: xD(v), y: 1928, 'font-size': 33, 'font-weight': 700, 'text-anchor': 'middle', fill: '#222'}, dXTickLabels[i]);
    
    
  });
  dYDecades.forEach(d => {
    const y = yD(Math.pow(10, d));
    const lab = mk('text', g, {x: 1491, y: y + 17, 'font-size': 33, 'font-weight': 700, fill: '#222'}, '10');
    
    
    const sup = mk('text', g, {x: 1537, y: y + 2, 'font-size': 24, 'font-weight': 700, fill: '#222'}, String(d));
    
    
  });
  const mLine = mk('line', g, {x1: L, x2: R, y1: yD(marsisValue[0]), y2: yD(marsisValue[0]), stroke: '#111', 'stroke-width': 4, 'stroke-dasharray': '18.5 13.8'});
  
  
  const mText = mk('text', g, {x: 1721, y: 1288, 'font-size': 22.4, 'font-weight': 700, fill: '#2a1616'}, 'MARSIS retrieved value');
  
  
  const redLine = mk('path', g, {d: polyD(dFraction.map(xD), dMgClO4.map(yD)), fill: 'none', stroke: '#111', 'stroke-width': 3});
  
  
  const blueLine = mk('path', g, {d: polyD(dFraction.map(xD), dCaCl2.map(yD)), fill: 'none', stroke: '#111', 'stroke-width': 3});
  
  
  dFraction.forEach((v, i) => {
    const m = marker(g, 'star', xD(v), yD(dMgClO4[i]), '#f40000', '#111', 2, 22, 0);
    
    
  });
  dFraction.forEach((v, i) => {
    const m = marker(g, 'right', xD(v), yD(dCaCl2[i]), '#0000f0', '#111', 2, 33.5, 36.5);
    
    
  });
  const lg = grp(g);
  
  
  const box = mk('rect', lg, {x: 1588, y: 949, width: 774, height: 107.5, fill: '#fff', stroke: '#666', 'stroke-width': 2});
  
  
  const h1 = mk('line', lg, {x1: 1597, x2: 1681, y1: 975, y2: 975, stroke: '#111', 'stroke-width': 3});
  
  
  const m1 = marker(lg, 'star', 1638, 975, '#f40000', '#111', 2, 17, 0);
  
  
  const t1 = mk('text', lg, {x: 1689, y: 981, 'font-size': 30.5, 'font-weight': 700, fill: '#111'});
  
  
  mk('tspan', t1, {}, 'Basaltic grains + air + Mg(ClO');
  mk('tspan', t1, {dy: 11, 'font-size': 22}, '4');
  mk('tspan', t1, {dy: -11}, ')');
  mk('tspan', t1, {dy: 11, 'font-size': 22}, '2');
  mk('tspan', t1, {dy: -11}, ' brine');
  const h2 = mk('line', lg, {x1: 1597, x2: 1681, y1: 1028, y2: 1028, stroke: '#111', 'stroke-width': 3});
  
  
  const m2 = marker(lg, 'right', 1638, 1028, '#0000f0', '#111', 2, 33, 34);
  
  
  const t2 = mk('text', lg, {x: 1689, y: 1031, 'font-size': 30.5, 'font-weight': 700, fill: '#111'});
  
  
  mk('tspan', t2, {}, 'Basaltic grains + air + CaCl');
  mk('tspan', t2, {dy: 11, 'font-size': 22}, '2');
  mk('tspan', t2, {dy: -11}, ' brine');
})();
</script>
</body>
</html>
